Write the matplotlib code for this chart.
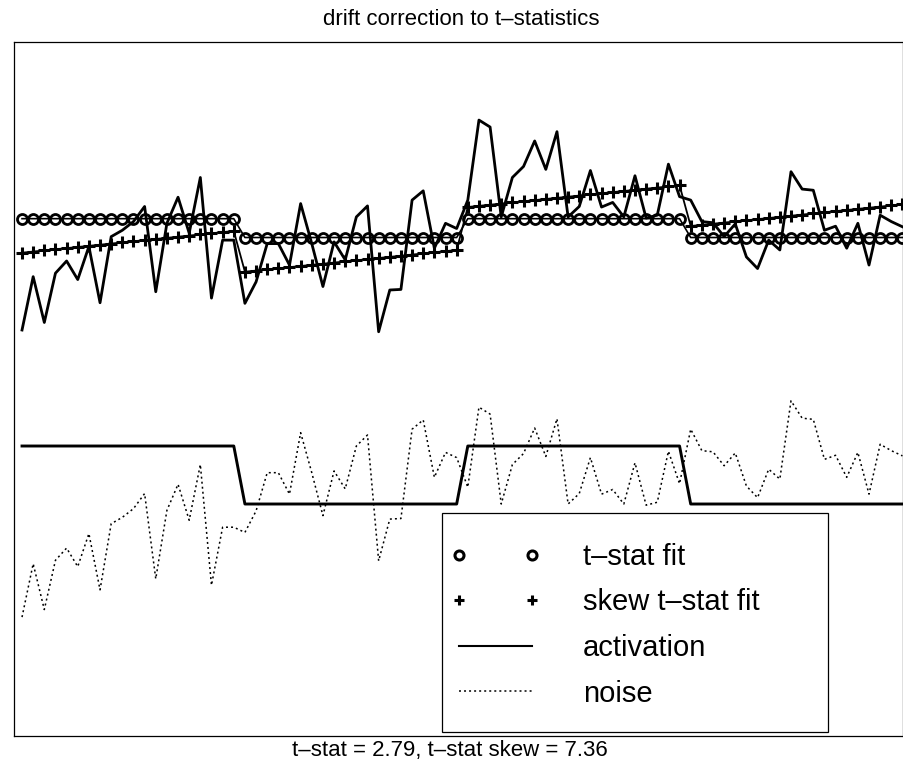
import numpy as np
import matplotlib
matplotlib.use("Agg")
import matplotlib.pyplot as plt
from matplotlib.lines import Line2D
from matplotlib.patches import Rectangle
from matplotlib.legend_handler import HandlerLine2D

plt.rcParams['font.family'] = ['Liberation Sans', 'DejaVu Sans']

# ---- data ----
scan = np.arange(1, 81)
activation = [1, 1, 1, 1, 1, 1, 1, 1, 1, 1, 1, 1, 1, 1, 1, 1, 1, 1, 1, 1,
              0, 0, 0, 0, 0, 0, 0, 0, 0, 0, 0, 0, 0, 0, 0, 0, 0, 0, 0, 0,
              1, 1, 1, 1, 1, 1, 1, 1, 1, 1, 1, 1, 1, 1, 1, 1, 1, 1, 1, 1,
              0, 0, 0, 0, 0, 0, 0, 0, 0, 0, 0, 0, 0, 0, 0, 0, 0, 0, 0, 0]
noise = [2.05, 2.97, 2.18, 3.03, 3.24, 2.92, 3.49, 2.52, 3.66, 3.77,
         3.92, 4.18, 2.71, 3.89, 4.34, 3.72, 4.68, 2.60, 3.60, 3.60,
         3.51, 3.88, 4.54, 4.54, 4.17, 5.23, 4.54, 3.80, 4.57, 4.26,
         5.00, 5.19, 3.02, 3.74, 3.75, 5.29, 5.45, 4.46, 4.89, 4.80,
         4.29, 5.67, 5.55, 4.00, 4.68, 4.87, 5.31, 4.82, 5.47, 4.00,
         4.18, 4.80, 4.17, 4.25, 4.00, 4.71, 3.98, 4.03, 4.91, 4.35,
         5.29, 4.92, 4.90, 4.66, 4.88, 4.31, 4.11, 4.60, 4.43, 5.78,
         5.48, 5.46, 4.77, 4.84, 4.46, 4.89, 4.17, 5.03, 4.92, 4.83]
signal_offset = 3.95          # measured signal = noise + activation + offset
activation_offset = 4.0       # display offset of the activation trace
# fitted model coefficients
tstat_coef = [8.595, 0.325]               # intercept, activation
skew_coef = [7.591, 0.722, 0.0197]        # intercept, activation, drift per scan

title = "drift correction to t\u2013statistics"
xlabel = "t\u2013stat = 2.79, t\u2013stat skew = 7.36"
labels = ["t\u2013stat fit", "skew t\u2013stat fit", "activation", "noise"]

act = np.asarray(activation, float)
nz = np.asarray(noise, float)
signal = nz + act + signal_offset
tstat_fit = tstat_coef[0] + tstat_coef[1] * act
skew_fit = skew_coef[0] + skew_coef[1] * act + skew_coef[2] * scan

# ---- figure ----
fig = plt.figure(figsize=(9.04, 7.66), dpi=100)
ax = fig.add_axes([14 / 904, 30 / 766, 889 / 904, 694 / 766])

dot_style = (0, (1.3, 2.0))
ax.plot(scan, signal, '-', color='black', lw=2.0, zorder=3)
ax.plot(scan, tstat_fit, '-o', color='black', lw=1.2, ms=7.2, mew=2.0,
        mfc='none', zorder=4)
ax.plot(scan, skew_fit, '-+', color='black', lw=1.3, ms=8.0, mew=2.2, zorder=4)
ax.plot(scan, act + activation_offset, '-', color='black', lw=2.1, zorder=3)
ax.plot(scan, nz, color='black', lw=1.1, linestyle=dot_style, zorder=3)

ax.set_xlim(0.28, 80.05)
ax.set_ylim(0, 11.966)
ax.set_xticks([])
ax.set_yticks([])
for s in ax.spines.values():
    s.set_linewidth(0.9)
ax.set_title(title, fontsize=16, pad=12, x=0.503)
ax.set_xlabel(xlabel, fontsize=16)
ax.xaxis.set_label_coords(0.4904, -0.0058)

# legend box
rect = Rectangle((442 / 904, 34 / 766), 386 / 904, 219 / 766,
                 transform=fig.transFigure, facecolor='white',
                 edgecolor='black', lw=0.9, zorder=5)
fig.add_artist(rect)

h1 = Line2D([], [], color='black', marker='o', linestyle='none', ms=6.5,
            mew=2.2, mfc='none')
h2 = Line2D([], [], color='black', marker='+', linestyle='none', ms=7.0, mew=2.2)
h3 = Line2D([], [], color='black', lw=1.5)
h4 = Line2D([], [], color='black', lw=1.1, linestyle=dot_style)
hm = {h1: HandlerLine2D(numpoints=2, marker_pad=0),
      h2: HandlerLine2D(numpoints=2, marker_pad=0)}
leg = fig.legend([h1, h2, h3, h4], labels, loc='upper left',
                 bbox_to_anchor=(459 / 904, (766 - 543) / 766),
                 bbox_transform=fig.transFigure, frameon=False,
                 fontsize=21, borderpad=0, borderaxespad=0,
                 handlelength=2.5, handletextpad=1.75, labelspacing=0.6,
                 handler_map=hm)
leg.set_zorder(6)

fig.savefig("out.png", dpi=100)
